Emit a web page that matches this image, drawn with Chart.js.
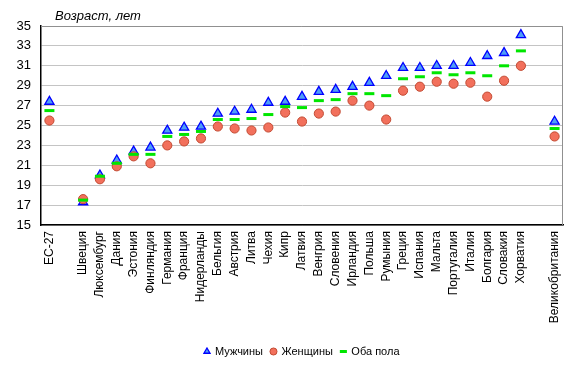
<!DOCTYPE html>
<html>
<head>
<meta charset="utf-8">
<script src="https://cdn.jsdelivr.net/npm/chart.js@4/dist/chart.umd.min.js"></script>
<style>
  html, body { margin: 0; padding: 0; background: #ffffff; }
  #wrap { width: 577px; height: 369px; position: relative; }
</style>
</head>
<body>
<div id="wrap"><canvas id="c" width="577" height="369"></canvas></div>
<script>
const categories = ['ЕС-27', '', 'Швеция', 'Люксембург', 'Дания', 'Эстония', 'Финляндия', 'Германия', 'Франция', 'Нидерланды', 'Бельгия', 'Австрия', 'Литва', 'Чехия', 'Кипр', 'Латвия', 'Венгрия', 'Словения', 'Ирландия', 'Польша', 'Румыния', 'Греция', 'Испания', 'Мальта', 'Португалия', 'Италия', 'Болгария', 'Словакия', 'Хорватия', '', 'Великобритания'];
const men   = [27.4, null, 17.3, 20.0, 21.5, 22.4, 22.8, 24.5, 24.8, 24.9, 26.2, 26.4, 26.6, 27.3, 27.4, 27.9, 28.4, 28.6, 28.9, 29.3, 30.0, 30.8, 30.8, 31.0, 31.0, 31.3, 32.0, 32.3, 34.1, null, 25.4];
const women = [25.5, null, 17.6, 19.6, 20.9, 21.9, 21.2, 23.0, 23.4, 23.7, 24.9, 24.7, 24.5, 24.8, 26.3, 25.4, 26.2, 26.4, 27.5, 27.0, 25.6, 28.5, 28.9, 29.4, 29.2, 29.3, 27.9, 29.5, 31.0, null, 23.9];
const both  = [26.5, null, 17.5, 19.9, 21.2, 22.1, 22.1, 23.9, 24.1, 24.4, 25.6, 25.6, 25.7, 26.1, 26.9, 26.8, 27.5, 27.6, 28.2, 28.2, 28.0, 29.7, 29.9, 30.3, 30.1, 30.3, 30.0, 31.0, 32.5, null, 24.7];
const seriesNames = ['Мужчины', 'Женщины', 'Оба пола'];
const yTitle = 'Возраст, лет';
const yMin = 15, yMax = 35, yStep = 2;

const FONT = "'Liberation Sans', Arial, sans-serif";

const framePlugin = {
  id: 'frame',
  afterLayout(chart) {
    // centre the legend under the plot area, as in the reference
    const lg = chart.legend;
    if (lg) {
      const a = chart.chartArea;
      const shift = (a.left + a.right) / 2 - (lg.left + lg.right) / 2;
      lg.left += shift;
      lg.right += shift;
    }
  },
  beforeDatasetsDraw(chart) {
    const {ctx, chartArea: a} = chart;
    ctx.save();
    ctx.strokeStyle = '#909090';
    ctx.lineWidth = 1;
    ctx.beginPath();
    ctx.moveTo(a.left, a.top + 0.5);
    ctx.lineTo(a.right - 0.5, a.top + 0.5);
    ctx.lineTo(a.right - 0.5, a.bottom);
    ctx.stroke();
    ctx.restore();
  },
  afterDraw(chart) {
    const {ctx, chartArea: a} = chart;
    ctx.save();
    ctx.font = "italic 13px " + FONT;
    ctx.fillStyle = '#000';
    ctx.textBaseline = 'alphabetic';
    ctx.textAlign = 'left';
    ctx.fillText(yTitle, a.left + 14, 20);
    ctx.restore();
  }
};

new Chart(document.getElementById('c'), {
  type: 'line',
  data: {
    labels: categories,
    datasets: [
      {
        label: seriesNames[0], data: men, showLine: false, order: 3,
        pointStyle: 'triangle', pointRadius: 5.3,
        backgroundColor: '#4f9df7', borderColor: '#0000ff', borderWidth: 1.3
      },
      {
        label: seriesNames[1], data: women, showLine: false, order: 2,
        pointStyle: 'circle', pointRadius: 4.6,
        backgroundColor: '#f2705c', borderColor: '#c24a32', borderWidth: 1
      },
      {
        label: seriesNames[2], data: both, showLine: false, order: 1,
        pointStyle: 'line', pointRadius: 5,
        backgroundColor: '#00e600', borderColor: '#00e600', borderWidth: 3
      }
    ]
  },
  options: {
    responsive: false,
    animation: false,
    events: [],
    layout: { padding: { left: 0, right: 14, top: 26, bottom: 2 } },
    plugins: {
      tooltip: { enabled: false },
      title: { display: false },
      legend: {
        position: 'bottom',
        labels: {
          usePointStyle: true,
          boxWidth: 5, boxHeight: 5,
          padding: 8,
          color: '#000',
          font: { family: FONT, size: 11 },
          sort: (a, b) => a.datasetIndex - b.datasetIndex
        }
      }
    },
    scales: {
      x: {
        type: 'category',
        offset: true,
        grid: { display: false, drawTicks: false },
        border: { display: true, color: '#000', width: 1.5 },
        ticks: {
          autoSkip: false, minRotation: 90, maxRotation: 90, padding: 6,
          color: '#000', font: { family: FONT, size: 12 }
        },
        afterFit(scale) { scale.height = 113; }
      },
      y: {
        min: yMin, max: yMax,
        grid: { color: '#c4c4c4', lineWidth: 1, drawTicks: false },
        border: { display: true, color: '#000', width: 1.5 },
        ticks: {
          stepSize: yStep, padding: 10,
          color: '#000', font: { family: FONT, size: 13 }
        },
        afterFit(scale) { scale.width = 41; }
      }
    }
  },
  plugins: [framePlugin]
});
</script>
</body>
</html>
